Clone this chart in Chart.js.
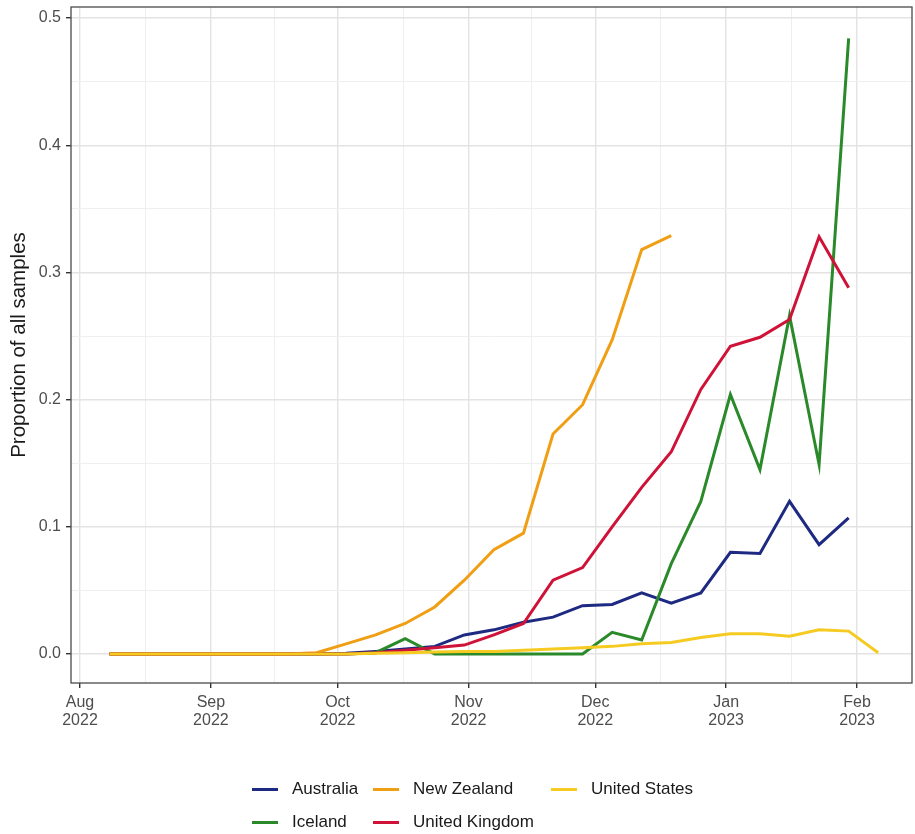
<!DOCTYPE html>
<html lang="en">
<head>
    <meta charset="UTF-8">
    <title>Proportion of all samples</title>
    <script src="https://cdn.jsdelivr.net/npm/chart.js"></script>
    <style>
        body { margin: 0; background: #fff; }
        #wrap { position: relative; width: 915px; height: 834px; font-family: "Liberation Sans", Arial, sans-serif; }
        #propChart { position: absolute; left: 0; top: 0; }
        .key { position: absolute; width: 26px; height: 3px; }
        .lab { position: absolute; font-size: 17px; color: #1a1a1a; line-height: 20px; white-space: nowrap; }
    </style>
</head>
<body>
<div id="wrap">
    <canvas id="propChart" width="915" height="834"></canvas>
</div>
<script>
    // weekly sample dates
    const weeks = [
        '2022-08-08', '2022-08-15', '2022-08-22', '2022-08-29', '2022-09-05', '2022-09-12', '2022-09-19',
        '2022-09-26', '2022-10-03', '2022-10-10', '2022-10-17', '2022-10-24', '2022-10-31', '2022-11-07',
        '2022-11-14', '2022-11-21', '2022-11-28', '2022-12-05', '2022-12-12', '2022-12-19', '2022-12-26',
        '2023-01-02', '2023-01-09', '2023-01-16', '2023-01-23', '2023-01-30', '2023-02-06'
    ];

    const australia = [0, 0, 0, 0, 0, 0, 0, 0, 0.0005, 0.002, 0.004, 0.006, 0.015, 0.019,
        0.025, 0.029, 0.038, 0.039, 0.048, 0.040, 0.048, 0.080, 0.079, 0.120, 0.086, 0.107, null];
    const iceland = [0, 0, 0, 0, 0, 0, 0, 0, 0, 0.001, 0.012, 0, 0, 0,
        0, 0, 0, 0.017, 0.011, 0.071, 0.120, 0.204, 0.145, 0.266, 0.149, 0.484, null];
    const newZealand = [0, 0, 0, 0, 0, 0, 0, 0.001, 0.008, 0.015, 0.024, 0.037, 0.058, 0.082,
        0.095, 0.173, 0.196, 0.247, 0.318, 0.329, null, null, null, null, null, null, null];
    const unitedKingdom = [0, 0, 0, 0, 0, 0, 0, 0, 0, 0.001, 0.003, 0.005, 0.007, 0.015,
        0.024, 0.058, 0.068, 0.100, 0.131, 0.159, 0.208, 0.242, 0.249, 0.263, 0.328, 0.288, null];
    const unitedStates = [0, 0, 0, 0, 0, 0, 0, 0, 0, 0.0005, 0.001, 0.0015, 0.002, 0.002,
        0.003, 0.004, 0.005, 0.006, 0.008, 0.009, 0.013, 0.016, 0.016, 0.014, 0.019, 0.018, 0.001];

    const monthTicks = ['2022-08-01', '2022-09-01', '2022-10-01', '2022-11-01', '2022-12-01', '2023-01-01', '2023-02-01'];
    const monthLabels = [['Aug', '2022'], ['Sep', '2022'], ['Oct', '2022'], ['Nov', '2022'],
        ['Dec', '2022'], ['Jan', '2023'], ['Feb', '2023']];
    const yTickLabels = ['0.0', '0.1', '0.2', '0.3', '0.4', '0.5'];

    const seriesNames = ['Australia', 'Iceland', 'New Zealand', 'United Kingdom', 'United States'];
    const seriesData = [australia, iceland, newZealand, unitedKingdom, unitedStates];
    const seriesColors = ['#1e2a82', '#2a8a2a', '#f09e14', '#cf1238', '#f5cb22'];

    // days since 1 Aug 2022
    const origin = Date.UTC(2022, 7, 1);
    function dayNum(s) {
        const p = s.split('-').map(Number);
        return (Date.UTC(p[0], p[1] - 1, p[2]) - origin) / 86400000;
    }

    const majorX = monthTicks.map(dayNum);
    const xTicks = [];
    majorX.forEach((d, i) => {
        xTicks.push({ value: d, major: true, label: monthLabels[i] });
        if (i < majorX.length - 1) xTicks.push({ value: (d + majorX[i + 1]) / 2, major: false, label: '' });
    });
    const yTicks = [];
    for (let i = 0; i <= 10; i++) {
        yTicks.push({ value: i * 0.05, major: i % 2 === 0, label: i % 2 === 0 ? yTickLabels[i / 2] : '' });
    }

    const datasets = seriesNames.map((name, i) => ({
        label: name,
        data: weeks.map((w, j) => ({ x: dayNum(w), y: seriesData[i][j] })),
        borderColor: seriesColors[i],
        backgroundColor: seriesColors[i],
        borderWidth: 3,
        pointRadius: 0,
        tension: 0,
        spanGaps: false,
        order: seriesNames.length - i
    }));

    const panelBorder = {
        id: 'panelBorder',
        afterDatasetsDraw(chart) {
            const a = chart.chartArea;
            const c = chart.ctx;
            c.save();
            c.strokeStyle = '#4a4a4a';
            c.lineWidth = 1.3;
            c.strokeRect(a.left, a.top, a.right - a.left, a.bottom - a.top);
            c.restore();
        }
    };

    const tickFont = { family: '"Liberation Sans", Arial, sans-serif', size: 16, lineHeight: 1.15 };
    const gridOpts = {
        color: c => c.tick && c.tick.major ? '#e3e3e3' : '#efefef',
        lineWidth: c => c.tick && c.tick.major ? 1.4 : 1,
        tickColor: c => c.tick && c.tick.major ? '#333' : 'rgba(0,0,0,0)',
        tickLength: 5
    };

    new Chart(document.getElementById('propChart'), {
        type: 'line',
        data: { datasets: datasets },
        options: {
            responsive: false,
            animation: false,
            devicePixelRatio: 1,
            layout: { padding: { top: 7, right: 3, bottom: 101, left: 0 } },
            plugins: { legend: { display: false }, tooltip: { enabled: false } },
            scales: {
                x: {
                    type: 'linear',
                    min: -2.13,
                    max: 197,
                    afterBuildTicks: s => { s.ticks = xTicks.map(t => ({ value: t.value, major: t.major })); },
                    afterFit: s => { s.height = 50; s.paddingLeft = 0; s.paddingRight = 0; },
                    border: { display: false },
                    grid: gridOpts,
                    ticks: {
                        autoSkip: false,
                        maxRotation: 0,
                        padding: 5,
                        color: '#4d4d4d',
                        font: tickFont,
                        callback: (v, i) => xTicks[i].label
                    }
                },
                y: {
                    min: -0.0228,
                    max: 0.5087,
                    afterBuildTicks: s => { s.ticks = yTicks.map(t => ({ value: t.value, major: t.major })); },
                    afterFit: s => { s.width = 71; s.paddingTop = 0; s.paddingBottom = 0; },
                    border: { display: false },
                    grid: gridOpts,
                    ticks: {
                        autoSkip: false,
                        padding: 5,
                        color: '#4d4d4d',
                        font: tickFont,
                        callback: (v, i) => yTicks[i].label
                    },
                    title: {
                        display: true,
                        text: 'Proportion of all samples',
                        color: '#1a1a1a',
                        font: { family: '"Liberation Sans", Arial, sans-serif', size: 20.5 },
                        padding: { top: 7, bottom: 0 }
                    }
                }
            }
        },
        plugins: [panelBorder]
    });

    // legend laid out in columns like the original
    const keyLeft = [252, 252, 373, 373, 551];
    const rowMid = [789, 822, 789, 822, 789];
    const wrap = document.getElementById('wrap');
    seriesNames.forEach((name, i) => {
        const k = document.createElement('div');
        k.className = 'key';
        k.style.left = keyLeft[i] + 'px';
        k.style.top = (rowMid[i] - 1.5) + 'px';
        k.style.background = seriesColors[i];
        wrap.appendChild(k);
        const t = document.createElement('div');
        t.className = 'lab';
        t.textContent = name;
        t.style.left = (keyLeft[i] + 40) + 'px';
        t.style.top = (rowMid[i] - 10) + 'px';
        wrap.appendChild(t);
    });
</script>
</body>
</html>
